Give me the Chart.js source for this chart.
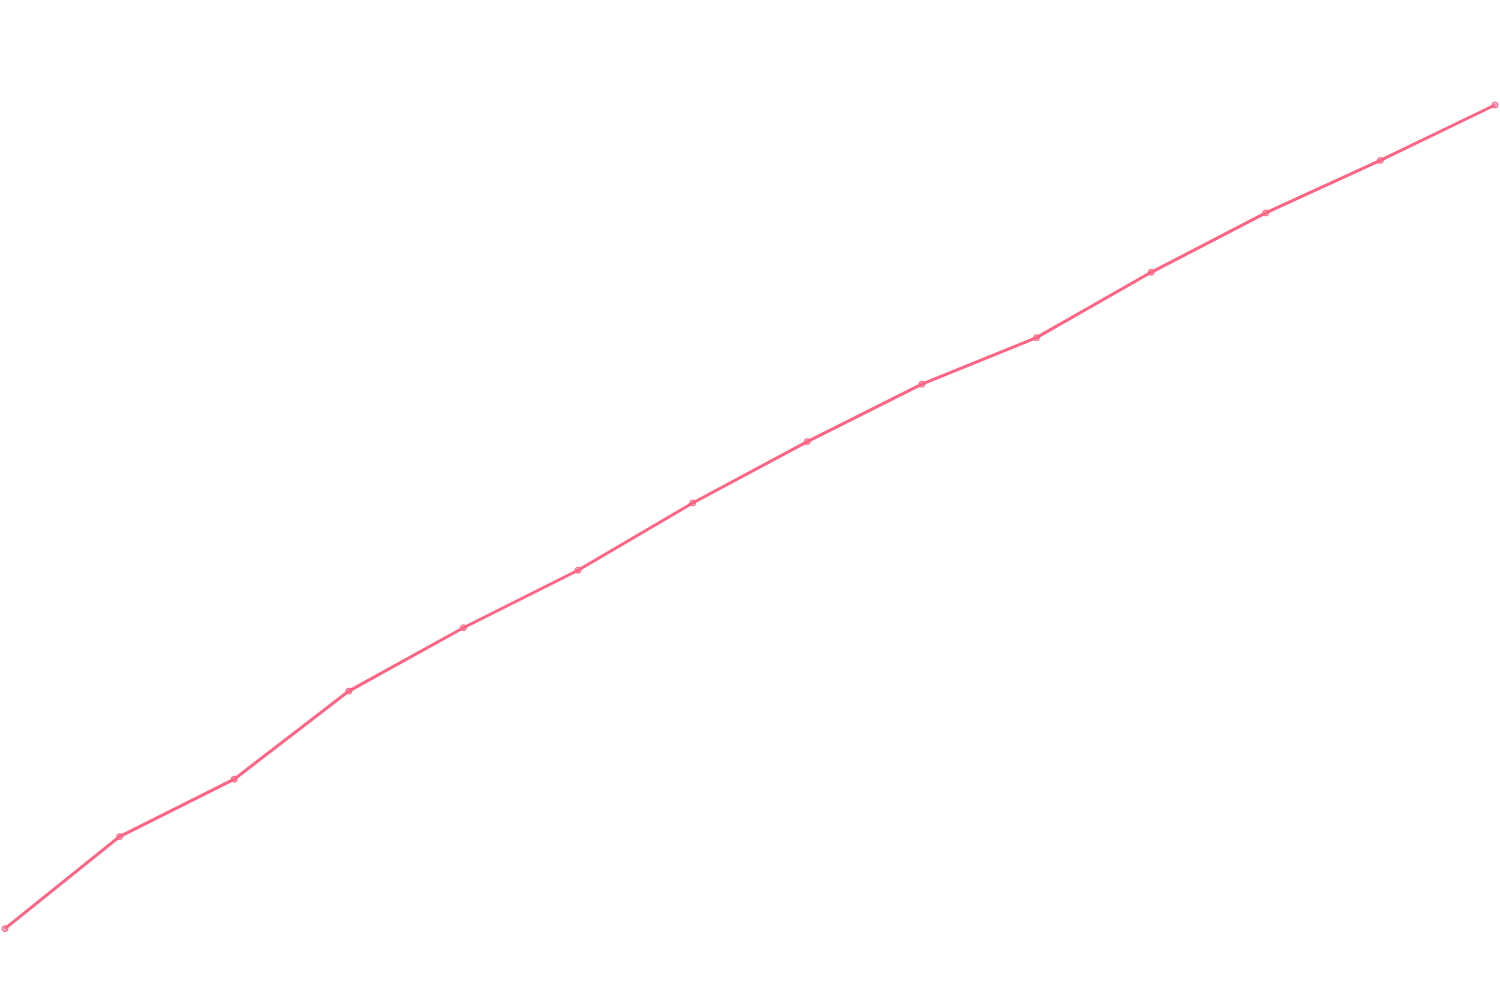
<!DOCTYPE html>
<html>
<head>
<meta charset="utf-8">
<script src="https://cdn.jsdelivr.net/npm/chart.js@4"></script>
<style>
  html, body { margin: 0; padding: 0; background: #fff; }
  #wrap { width: 1500px; height: 1000px; }
</style>
</head>
<body>
<div id="wrap"><canvas id="chart"></canvas></div>
<script>
// Points along the x axis (no labels shown)
const labels = ['1', '2', '3', '4', '5', '6', '7', '8', '9', '10', '11', '12', '13', '14'];

// Series values
const values = [6.7, 16.0, 21.8, 30.7, 37.1, 42.9, 49.7, 55.9, 61.7, 66.4, 73.0, 79.0, 84.3, 89.9];

// Hidden value axis range
const yMin = 0;
const yMax = 100;

const ctx = document.getElementById('chart').getContext('2d');
new Chart(ctx, {
    type: 'line',
    data: {
        labels: labels,
        datasets: [{
            label: 'Series',
            data: values,
            borderColor: 'rgb(255, 99, 132)',
            backgroundColor: 'rgba(255, 99, 132, 0.5)',
            borderWidth: 3,
            pointRadius: 3,
            pointBorderWidth: 1,
            tension: 0
        }]
    },
    options: {
        responsive: true,
        maintainAspectRatio: false,
        animation: false,
        plugins: {
            legend: { display: false },
            title: { display: false },
            tooltip: { enabled: false }
        },
        scales: {
            x: { display: false },
            y: { display: false, min: yMin, max: yMax }
        }
    }
});
</script>
</body>
</html>
